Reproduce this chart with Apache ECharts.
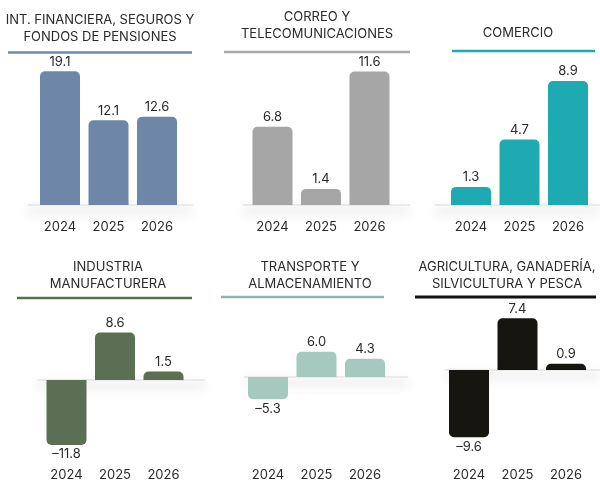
<!DOCTYPE html>
<html>
<head>
<meta charset="utf-8">
<script src="https://cdn.jsdelivr.net/npm/echarts@6/dist/echarts.min.js"></script>
<style>
html, body { margin: 0; padding: 0; background: #fff; }
#chart { width: 600px; height: 483px; }
</style>
</head>
<body>
<div id="chart"></div>
<script>
// data
const years = ['2024', '2025', '2026']

const financieraValues = [19.1, 12.1, 12.6]
const correoValues = [6.8, 1.4, 11.6]
const comercioValues = [1.3, 4.7, 8.9]
const industriaValues = [-11.8, 8.6, 1.5]
const transporteValues = [-5.3, 6.0, 4.3]
const agriculturaValues = [-9.6, 7.4, 0.9]

const FONT = 'Inter, "Noto Sans", sans-serif'
const TEXT = '#2a2a2a'

// layout per panel (pixels + axis ranges)
const panels = [
    { title: 'INT. FINANCIERA, SEGUROS Y\nFONDOS DE PENSIONES', values: financieraValues,
      color: '#6e86a8', lineColor: '#6f87a8', titleX: 100, titleTop: 11.5, rule: [8, 192, 52.5, 2.5],
      left: 35.75, top: 60, height: 145, min: 0, max: 20.7, base: [28, 193], margin: 16 },
    { title: 'CORREO Y\nTELECOMUNICACIONES', values: correoValues,
      color: '#a6a6a6', lineColor: '#aaaaaa', titleX: 317, titleTop: 8.5, rule: [224, 410, 52, 2.5],
      left: 248.25, top: 60, height: 145, min: 0, max: 12.6, base: [243, 410], margin: 16 },
    { title: 'COMERCIO', values: comercioValues,
      color: '#1eaab0', lineColor: '#1eaab0', titleX: 518, titleTop: 24.5, rule: [452, 595, 51, 2.5],
      left: 446.75, top: 60, height: 145, min: 0, max: 10.4, base: [435, 600], margin: 16 },
    { title: 'INDUSTRIA\nMANUFACTURERA', values: industriaValues,
      color: '#5b6f55', lineColor: '#5b6f55', titleX: 108, titleTop: 258.5, rule: [17, 192, 298, 2.5],
      left: 42.25, top: 300, height: 165, min: -15.45, max: 14.5, base: [37, 205], margin: 4 },
    { title: 'TRANSPORTE Y\nALMACENAMIENTO', values: transporteValues,
      color: '#a6c9bf', lineColor: '#8fb2b2', titleX: 310, titleTop: 258.5, rule: [221, 384, 297, 2.5],
      left: 243.75, top: 300, height: 165, min: -20.95, max: 18.3, base: [244, 408], margin: 4 },
    { title: 'AGRICULTURA, GANADERÍA,\nSILVICULTURA Y PESCA', values: agriculturaValues,
      color: '#17150f', lineColor: '#111111', titleX: 507, titleTop: 258.5, rule: [415, 596, 297, 3],
      left: 444.75, top: 300, height: 165, min: -13.57, max: 10, base: [445, 600], margin: 4 },
]

const chart = echarts.init(document.getElementById('chart'))

chart.setOption({
    animation: false,
    title: panels.map(p => ({
        text: p.title,
        left: p.titleX,
        top: p.titleTop,
        textAlign: 'center',
        padding: 0,
        textStyle: { fontFamily: FONT, fontSize: 13, fontWeight: 'normal', color: TEXT, lineHeight: 17 },
    })),
    grid: panels.map(p => ({ left: p.left, top: p.top, width: 145.5, height: p.height })),
    xAxis: panels.map((p, i) => ({
        type: 'category',
        gridIndex: i,
        data: years,
        axisLine: { show: false, onZero: false },
        axisTick: { show: false },
        axisLabel: { color: TEXT, fontFamily: FONT, fontSize: 13, margin: p.margin },
    })),
    yAxis: panels.map((p, i) => ({
        type: 'value',
        gridIndex: i,
        min: p.min,
        max: p.max,
        show: false,
        splitLine: { show: false },
    })),
    graphic: panels.map(p => ({
        type: 'line',
        shape: { x1: p.rule[0], y1: p.rule[2], x2: p.rule[1], y2: p.rule[2] },
        style: { stroke: p.lineColor, lineWidth: p.rule[3] },
        silent: true,
    })),
    series: panels.map((p, i) => ({
        type: 'bar',
        xAxisIndex: i,
        yAxisIndex: i,
        barWidth: 40,
        itemStyle: { color: p.color },
        label: {
            show: true,
            distance: 3,
            color: TEXT,
            fontFamily: FONT,
            fontSize: 13,
            formatter: params => params.value.toFixed(1).replace('-', '–'),
        },
        data: p.values.map(v => ({
            value: v,
            itemStyle: { borderRadius: v >= 0 ? [5, 5, 0, 0] : [0, 0, 5, 5] },
            label: { position: v >= 0 ? 'top' : 'bottom' },
        })),
        // zero baseline with soft shadow underneath
        markLine: {
            silent: true,
            z: 1,
            symbol: ['none', 'none'],
            label: { show: false },
            lineStyle: {
                type: 'solid',
                color: '#e4e4e4',
                width: 1.5,
                shadowColor: 'rgba(0,0,0,0.38)',
                shadowBlur: 12,
                shadowOffsetY: 6,
            },
            data: [[{ x: p.base[0], yAxis: 0 }, { x: p.base[1], yAxis: 0 }]],
        },
    })),
})
</script>
</body>
</html>
